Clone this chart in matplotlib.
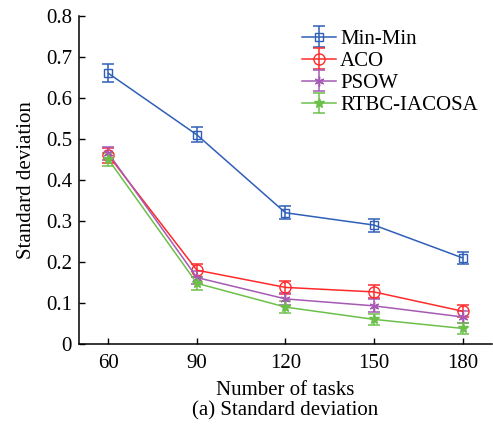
import matplotlib
matplotlib.use('Agg')
import matplotlib.pyplot as plt

plt.rcParams['font.family'] = ['Liberation Serif', 'DejaVu Serif']
plt.rcParams['mathtext.fontset'] = 'stix'

tasks = [60, 90, 120, 150, 180]
minmin = [0.660, 0.510, 0.320, 0.290, 0.210]
minmin_err = [0.022, 0.018, 0.016, 0.016, 0.015]
aco = [0.460, 0.180, 0.138, 0.127, 0.080]
aco_err = [0.018, 0.016, 0.016, 0.016, 0.015]
psow = [0.465, 0.162, 0.110, 0.093, 0.066]
psow_err = [0.016, 0.016, 0.014, 0.016, 0.014]
rtbc = [0.450, 0.148, 0.090, 0.060, 0.038]
rtbc_err = [0.016, 0.016, 0.015, 0.014, 0.013]

fig = plt.figure(figsize=(4.93, 4.30), dpi=100)
ax = fig.add_axes([0.160, 0.200, 0.838, 0.763])

kw = dict(linewidth=1.1, elinewidth=1.1, capsize=4, capthick=1.1)
ax.errorbar(tasks, minmin, yerr=minmin_err, color='#2f5fb8', marker='s',
            markerfacecolor='none', markersize=6, label='Min-Min', **kw)
ax.errorbar(tasks, aco, yerr=aco_err, color='#ff2a2a', marker='o',
            markerfacecolor='none', markersize=8, label='ACO', **kw)
ax.errorbar(tasks, psow, yerr=psow_err, color='#a55ab4', marker=(6, 2, 0),
            markersize=7, label='PSOW', **kw)
ax.errorbar(tasks, rtbc, yerr=rtbc_err, color='#6cc04a', marker='*',
            markersize=7, label='RTBC-IACOSA', **kw)

ax.set_xlim(50, 190)
ax.set_ylim(0, 0.8)
ax.set_xticks(tasks)
ax.set_yticks([0, 0.1, 0.2, 0.3, 0.4, 0.5, 0.6, 0.7, 0.8])
ax.set_yticklabels(['0', '0.1', '0.2', '0.3', '0.4', '0.5', '0.6', '0.7', '0.8'])
ax.tick_params(direction='in', labelsize=15, length=4, width=1)
ax.tick_params(axis='x', pad=7)
ax.tick_params(axis='y', pad=5)
ax.spines['top'].set_visible(False)
ax.spines['right'].set_visible(False)
ax.spines['left'].set_linewidth(1.1)
ax.spines['bottom'].set_linewidth(1.1)

ax.set_ylabel('Standard deviation', fontsize=15, labelpad=7)
ax.set_xlabel('Number of tasks', fontsize=15, labelpad=6)
fig.text(0.578, 0.044, '(a) Standard deviation', fontsize=15,
         ha='center', va='center')

ax.legend(loc='upper right', bbox_to_anchor=(0.998, 1.0), frameon=False,
          fontsize=15, handlelength=1.6, handletextpad=0.2,
          labelspacing=0.12, borderaxespad=0.25)

fig.savefig('out.png', dpi=100)
